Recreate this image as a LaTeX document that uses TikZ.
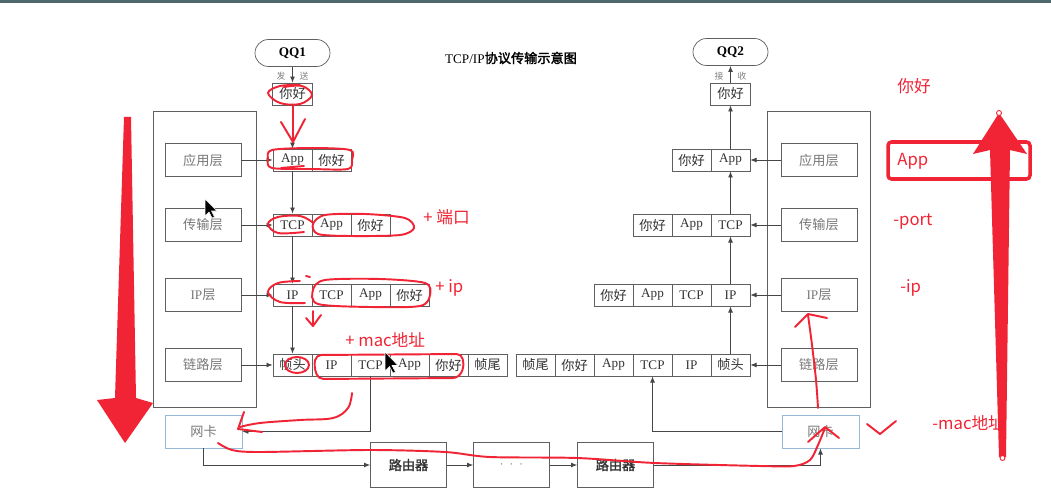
\documentclass[tikz,border=0pt]{standalone}
\usepackage{fontspec}
\setmainfont{Liberation Serif}
\newfontfamily\cjk{Noto Sans CJK SC}
\newfontfamily\cjkb{Noto Sans CJK SC}[FakeBold=2]
\usetikzlibrary{arrows.meta,calc,positioning}
\newcommand\zh[1]{{\cjk #1}}
\definecolor{BoxLine}{RGB}{95,95,95}
\definecolor{LineCol}{RGB}{70,70,70}
\definecolor{LayTxt} {RGB}{120,120,120}
\definecolor{NicLine}{RGB}{150,185,215}
\definecolor{PenRed} {RGB}{240,36,52}
\definecolor{TopBar} {RGB}{78,104,110}
\tikzset{
  nd_pill/.style={rectangle,rounded corners=0.27cm,draw=BoxLine,minimum width=1.5cm,minimum height=0.54cm,inner sep=0pt,font=\fontsize{7.5}{9}\selectfont\bfseries},
  nd_cell/.style={rectangle,draw=BoxLine,minimum width=0.78cm,minimum height=0.44cm,inner sep=0pt,text=black!80,font=\fontsize{7.5}{9}\selectfont},
  nd_layer/.style={rectangle,draw=BoxLine,minimum width=1.52cm,minimum height=0.66cm,inner sep=0pt,text=LayTxt,font=\fontsize{7.5}{9}\selectfont},
  nd_nic/.style={nd_layer,draw=NicLine,minimum width=1.54cm},
  nd_router/.style={rectangle,draw=BoxLine,minimum width=1.52cm,minimum height=0.9cm,inner sep=0pt,text=black!80,font=\fontsize{7.5}{9}\selectfont\cjkb},
  lbl_tiny/.style={font=\fontsize{5}{6}\selectfont\cjk,text=gray,inner sep=0pt},
  arr/.style={-{Latex[length=3.5pt,width=2.8pt]},draw=LineCol,line width=0.5pt},
  pen/.style={draw=PenRed,line width=1.1pt,line cap=round,line join=round},
  pen_txt/.style={text=PenRed,font=\fontsize{9.5}{11}\selectfont\cjk,inner sep=0pt,anchor=west},
}

\begin{document}
\begin{tikzpicture}[x=0.02cm,y=-0.02cm]

\fill[white] (0,0) rectangle (1051,500);
\useasboundingbox (0,0) rectangle (1051,500);
\fill[TopBar] (0,0) rectangle (1051,3);

% title
\node[font=\fontsize{7.5}{9}\selectfont] (title) at (511,58) {TCP/IP\cjkb 协议传输示意图};

% layer columns
\draw[BoxLine,line width=0.5pt] (153,111) rectangle (256,407);
\draw[BoxLine,line width=0.5pt] (767,111) rectangle (870,407);

% LEFT: sender
\node[nd_pill] (QQ1) at (292.5,53) {QQ1};
\node[lbl_tiny] (snd1) at (281,76) {发};
\node[lbl_tiny] (snd2) at (304,76) {送};
\node[nd_cell,minimum width=0.8cm] (L0) at (292.5,94) {\zh{你好}};

\node[nd_layer] (A1) at (203,160) {\zh{应用层}};
\node[nd_layer] (A2) at (203,225) {\zh{传输层}};
\node[nd_layer] (A3) at (203,295) {IP\zh{层}};
\node[nd_layer] (A4) at (203,365) {\zh{链路层}};

\foreach \t [count=\i] in {App,\zh{你好}}
  \node[nd_cell] (L1\i) at ({273+39*\i-19.5},160) {\t};
\foreach \t [count=\i] in {TCP,App,\zh{你好}}
  \node[nd_cell] (L2\i) at ({273+39*\i-19.5},225) {\t};
\foreach \t [count=\i] in {IP,TCP,App,\zh{你好}}
  \node[nd_cell] (L3\i) at ({273+39*\i-19.5},295) {\t};
\foreach \t [count=\i] in {\zh{帧头},IP,TCP,App,\zh{你好},\zh{帧尾}}
  \node[nd_cell] (L4\i) at ({273+39*\i-19.5},365) {\t};

\draw[arr](QQ1.south)--(L0.north);
\draw[arr](L0.south)--(L11.north);
\draw[arr](L11.south)--(L21.north);
\draw[arr](L21.south)--(L31.north);
\draw[arr](L31.south)--(L41.north);
\foreach \k in {1,2,3,4}
  \draw[arr](A\k.east)--(L\k1.west);

% RIGHT: receiver
\node[nd_pill] (QQ2) at (730.5,52) {QQ2};
\node[lbl_tiny] (rcv1) at (719,76) {接};
\node[lbl_tiny] (rcv2) at (742,76) {收};
\node[nd_cell,minimum width=0.8cm] (R0) at (730.5,94) {\zh{你好}};

\node[nd_layer] (B1) at (819,160) {\zh{应用层}};
\node[nd_layer] (B2) at (819,225) {\zh{传输层}};
\node[nd_layer] (B3) at (819,295) {IP\zh{层}};
\node[nd_layer] (B4) at (819,365) {\zh{链路层}};

\foreach \t [count=\i] in {\zh{你好},App}
  \node[nd_cell] (R1\i) at ({672+39*\i-19.5},160) {\t};
\foreach \t [count=\i] in {\zh{你好},App,TCP}
  \node[nd_cell] (R2\i) at ({633+39*\i-19.5},225) {\t};
\foreach \t [count=\i] in {\zh{你好},App,TCP,IP}
  \node[nd_cell] (R3\i) at ({594+39*\i-19.5},295) {\t};
\foreach \t [count=\i] in {\zh{帧尾},\zh{你好},App,TCP,IP,\zh{帧头}}
  \node[nd_cell] (R4\i) at ({516+39*\i-19.5},365) {\t};

\draw[arr](R46.north)--(R34.south);
\draw[arr](R34.north)--(R23.south);
\draw[arr](R23.north)--(R12.south);
\draw[arr](R12.north)--(R0.south);
\draw[arr](R0.north)--(QQ2.south);
\draw[arr](B1.west)--(R12.east);
\draw[arr](B2.west)--(R23.east);
\draw[arr](B3.west)--(R34.east);
\draw[arr](B4.west)--(R46.east);

% network
\node[nd_nic]    (nicL) at (203.5,431.5) {\zh{网卡}};
\node[nd_nic]    (nicR) at (820.5,431.5) {\zh{网卡}};
\node[nd_router] (rt1)  at (408.5,465) {路由器};
\node[nd_router] (dots) at (511.5,465) {\textcolor{gray}{$\cdot\,\cdot\,\cdot$}};
\node[nd_router] (rt2)  at (615.5,465) {路由器};

\draw[arr](L43.south)|-(nicL.east);
\draw[arr](nicL.south)|-(rt1.west);
\draw[arr](rt1)--(dots);
\draw[arr](dots)--(rt2);
\draw[arr](rt2.east)-|(nicR.south);
\draw[arr](nicR.west)-|(R44.south);

% red pen marks, sender side
\draw[pen] plot[smooth,tension=0.6] coordinates {(300,85) (280,86) (268,93) (280,103) (300,104) (312,95) (302,86) (284,87)};
\draw[pen] (293,106)--(293,142);
\draw[pen] (281,122)--(293,142)--(305,119);
\draw[pen] plot[smooth cycle,tension=0.5] coordinates {(272,150) (312,148) (350,150) (352,160) (348,169) (312,169) (272,168) (268,159)};
\draw[pen] (281,168)--(304,166);
\draw[pen] plot[smooth,tension=0.6] coordinates {(304,232) (278,233) (268,224) (278,217) (300,216) (312,222)};
\draw[pen] plot[smooth cycle,tension=0.5] coordinates {(318,234) (313,224) (325,215) (365,214) (405,218) (414,228) (400,235) (350,236)};
\draw[pen] plot[smooth,tension=0.6] coordinates {(300,281) (278,283) (268,292) (280,302) (305,303)};
\draw[pen] plot[smooth cycle,tension=0.5] coordinates {(318,304) (313,290) (325,280) (380,279) (425,283) (430,295) (420,306) (370,307)};
\draw[pen] (306,276)--(310,277);
\draw[pen] (313,311)--(313,326);
\draw[pen] (306,318)--(313,326)--(321,315);
\draw[pen] (297,365) ellipse [x radius=12, y radius=8];
\draw[pen,rounded corners=3pt] (316,355)--(462,354)--(464,368)--(458,378)--(318,379)--(314,366)--cycle;
\draw[pen] plot[smooth,tension=0.6] coordinates {(352,393) (348,408) (333,418) (300,420) (260,423) (240,427)};
\draw[pen] (244,412)--(238,429)--(262,432);
\draw[pen] plot[smooth,tension=0.5] coordinates {(218,443) (232,450) (260,452) (370,450) (445,452) (490,457) (577,458) (655,463) (760,466) (794,466) (810,460) (818,445) (825,428)};
\draw[pen] (808,442)--(825,427)--(839,438);

% red pen marks, receiver side
\draw[pen] plot[smooth,tension=0.6] coordinates {(818,408) (816,380) (812,345) (808,315)};
\draw[pen] (795,327)--(808,314)--(827,318);
\draw[pen] (867,424)--(880,434)--(896,421);

% red notes
\node[pen_txt] (nPort) at (423,217) {+ 端口};
\node[pen_txt] (nIp)   at (435,288) {+ ip};
\node[pen_txt] (nMac)  at (345,340) {+ mac地址};
\node[pen_txt] (mHi)   at (897,86)  {你好};
\node[pen_txt] (mApp)  at (897,161) {App};
\node[pen_txt] (mPort) at (893,222) {-port};
\node[pen_txt] (mIp)   at (900,288) {-ip};
\node[pen_txt] (mMac)  at (932,423) {-mac地址};
\draw[PenRed,line width=2pt,rounded corners=2pt] (888,142) rectangle (1030,179);

% big red arrows
\fill[PenRed] (124,117)--(131,117)--(136,398)--(153,403)--(125,443)--(97,400)--(115,398)--cycle;
\fill[PenRed] (999,113)--(1027,154)--(1010,150)--(1006,457)--(999,457)--(990,150)--(973,154)--cycle;
\draw[PenRed,fill=white,line width=0.5pt] (999,113) circle [radius=2.5];
\draw[PenRed,fill=white,line width=0.5pt] (1002.5,458) circle [radius=2.5];

% mouse pointers
\filldraw[black,draw=white,line width=0.3pt,shift={(205,199)}] (0,0)--(0,17)--(4,13)--(7,19)--(9.5,18)--(6.5,12)--(12,12)--cycle;
\filldraw[black,draw=white,line width=0.3pt,shift={(385,352)}] (0,0)--(0,19)--(4.5,14.5)--(8,21)--(10.5,20)--(7,13.5)--(13,13.5)--cycle;

\end{tikzpicture}
\end{document}
